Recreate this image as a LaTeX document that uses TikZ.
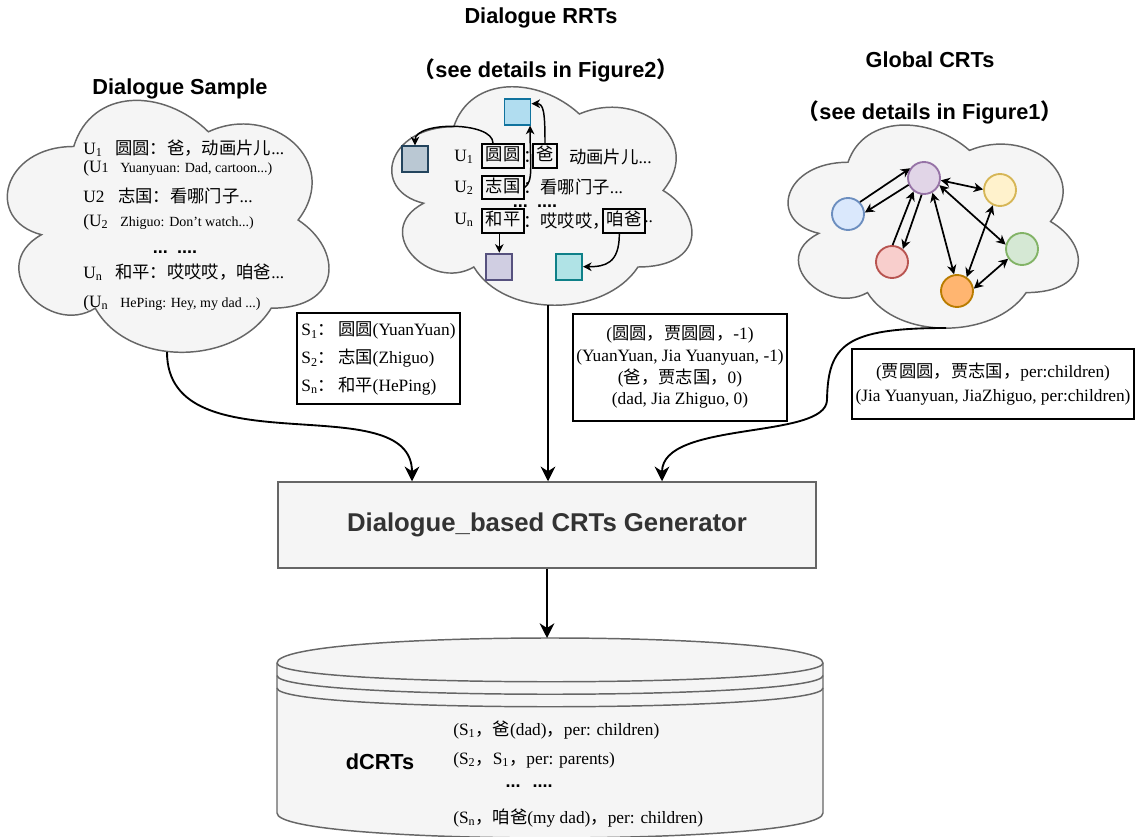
\documentclass[tikz,border=0pt]{standalone}
\usepackage{fontspec}
\setmainfont{Liberation Serif}
\setsansfont{Liberation Sans}
\newfontfamily\cjk{Noto Sans CJK SC}
\usetikzlibrary{arrows.meta,calc}
\definecolor{cloudfill}{HTML}{F5F5F5}
\definecolor{cloudline}{HTML}{666666}
\definecolor{gentext}{HTML}{333333}
\definecolor{bluef}{HTML}{DAE8FC}\definecolor{bluel}{HTML}{6C8EBF}
\definecolor{purf}{HTML}{E1D5E7}\definecolor{purl}{HTML}{9673A6}
\definecolor{yelf}{HTML}{FFF2CC}\definecolor{yell}{HTML}{D6B656}
\definecolor{redf}{HTML}{F8CECC}\definecolor{redl}{HTML}{B85450}
\definecolor{grnf}{HTML}{D5E8D4}\definecolor{grnl}{HTML}{82B366}
\definecolor{orf}{HTML}{FFB570}\definecolor{orl}{HTML}{B97C00}
\definecolor{sqTf}{HTML}{B1DDF0}\definecolor{sqTl}{HTML}{10739E}
\definecolor{sqLf}{HTML}{BAC8D3}\definecolor{sqLl}{HTML}{23445D}
\definecolor{sqPf}{HTML}{D0CEE2}\definecolor{sqPl}{HTML}{56517E}
\definecolor{sqCf}{HTML}{B0E3E6}\definecolor{sqCl}{HTML}{0E8088}
\newcommand\zh[1]{{\cjk #1}}
\newcommand\smallfs{\fontsize{10.5}{12.6}\selectfont}
\newcommand\drawcloud[4]{%
 \path[cloudst] ({#1+0.25*#3},{#2+0.25*#4}) .. controls ({#1+0.05*#3},{#2+0.25*#4}) and ({#1},{#2+0.5*#4}) .. ({#1+0.16*#3},{#2+0.55*#4})
 .. controls ({#1},{#2+0.66*#4}) and ({#1+0.18*#3},{#2+0.9*#4}) .. ({#1+0.31*#3},{#2+0.8*#4})
 .. controls ({#1+0.4*#3},{#2+#4}) and ({#1+0.7*#3},{#2+#4}) .. ({#1+0.8*#3},{#2+0.8*#4})
 .. controls ({#1+#3},{#2+0.8*#4}) and ({#1+#3},{#2+0.6*#4}) .. ({#1+0.875*#3},{#2+0.5*#4})
 .. controls ({#1+#3},{#2+0.3*#4}) and ({#1+0.8*#3},{#2+0.1*#4}) .. ({#1+0.625*#3},{#2+0.2*#4})
 .. controls ({#1+0.5*#3},{#2+0.05*#4}) and ({#1+0.3*#3},{#2+0.05*#4}) .. ({#1+0.25*#3},{#2+0.25*#4}) -- cycle;}
\begin{document}
\begin{tikzpicture}[x=0.75pt,y=-0.75pt,
  every node/.style={font=\fontsize{13}{15.6}\selectfont, inner sep=0pt},
  title/.style={font=\sffamily\bfseries\fontsize{16.3}{19}\selectfont},
  cloudst/.style={fill=cloudfill, draw=cloudline, line width=1.1pt},
  conn/.style={line width=1.4pt, -{Stealth[length=11pt,width=11pt,inset=3.5pt]}},
  sconn/.style={line width=1.1pt, -{Stealth[length=6.5pt,width=6.5pt,inset=2pt]}},
  carrow/.style={line width=1.3pt, -{Stealth[length=7pt,width=7pt,inset=2.2pt]}},
  cboth/.style={line width=1.3pt, {Stealth[length=7pt,width=7pt,inset=2.2pt]}-{Stealth[length=7pt,width=7pt,inset=2.2pt]}},
  tbox/.style={draw=black, fill=white, line width=1.4pt, inner sep=2pt},
  wbox/.style={draw=black, line width=1.5pt, inner xsep=2.4pt, inner ysep=2.6pt, text height=10pt, text depth=2.6pt},
  sq/.style={minimum size=19.5pt, line width=1.4pt},
  gnode/.style={circle, minimum size=24pt, line width=1.4pt},
  dots/.style={font=\sffamily\bfseries\fontsize{13.5}{15}\selectfont, text height=2.5pt, text depth=0pt}
]
\useasboundingbox (0,0) rectangle (1135,837);

% ---------- titles ----------
\node[title] (tDS) at (180,89) {Dialogue Sample};
\node[title] (tRR) at (541,18) {Dialogue RRTs};
\node[title] (tRR2) at (546,70) {\zh{（}see details in Figure2\zh{）}};
\node[title] (tGC) at (930,60) {Global CRTs};
\node[title] (tGC2) at (930,112) {\zh{（}see details in Figure1\zh{）}};

% ---------- clouds ----------
\drawcloud{-16}{73}{359}{294}
\drawcloud{370}{63}{335}{255}
\drawcloud{767}{103}{324}{237}
\coordinate (c1b) at (167,352);
\coordinate (c2b) at (548,305);
\coordinate (c3b) at (946,328);

% ---------- cloud 1 text ----------
\node[anchor=west] (s1) at (83,148) {\makebox[24pt][l]{U\textsubscript{1}}\zh{圆圆：爸，动画片儿}...};
\node[anchor=west] (s2) at (83,168) {\makebox[27.75pt][l]{(U{\smallfs 1}}{\smallfs Yuanyuan: Dad, cartoon...)}};
\node[anchor=west] (s3) at (83,196) {\makebox[26.25pt][l]{U2}\zh{志国：看哪门子}...};
\node[anchor=west] (s4) at (83,222) {\makebox[27.75pt][l]{(U\textsubscript{2}}{\smallfs Zhiguo: Don't watch...)}};
\node[dots] (s5) at (175,252) {...\hspace{7pt}....};
\node[anchor=west] (s6) at (83,272) {\makebox[24pt][l]{U\textsubscript{n}}\zh{和平：哎哎哎，咱爸}...};
\node[anchor=west] (s7) at (83,303) {\makebox[27.75pt][l]{(U\textsubscript{n}}{\smallfs HePing: Hey, my dad ...)}};

% ---------- cloud 2 content ----------
\node (u1) at (464,157) {U\textsubscript{1}};
\node[wbox] (b11) at (503,156) {\zh{圆圆}};
\node[anchor=west] (c11) at (523,157) {\zh{：}};
\node[wbox] (b12) at (545,156) {\zh{爸}};
\node[anchor=west] (t12) at (569,157) {\zh{动画片儿}...};
\node (u2) at (464,188) {U\textsubscript{2}};
\node[wbox] (b21) at (503,187.5) {\zh{志国}};
\node[anchor=west] (t21) at (523,187) {\zh{：看哪门子}...};
\node[dots] (d2) at (535,206) {...\hspace{7pt}....};
\node (un) at (464,220) {U\textsubscript{n}};
\node[wbox] (bn1) at (503,221) {\zh{和平}};
\node[anchor=west] (tn1) at (523,221) {\zh{：哎哎哎，}};
\node[wbox] (bn2) at (624,221) {\zh{咱爸}};
\node[anchor=west] (tn2) at (644,222) {..};

\node[sq, fill=sqTf, draw=sqTl] (sqT) at (517.5,111.7) {};
\node[sq, fill=sqLf, draw=sqLl] (sqL) at (415,159.3) {};
\node[sq, fill=sqPf, draw=sqPl] (sqP) at (499.3,266.7) {};
\node[sq, fill=sqCf, draw=sqCl] (sqC) at (569,266.7) {};

\draw[sconn] ([xshift=-7.5pt]b11.north) .. controls +(0,-22) and +(0,-24) .. (sqL.north);
\draw[sconn] (b21.east) .. controls +(9,-6) and +(0,40) .. ([xshift=-1pt]sqT.south east);
\draw[sconn] (b12.north) .. controls +(0,-32) and +(12,0) .. ([yshift=6pt]sqT.east);
\draw[sconn] (bn1.south -| sqP.north) -- (sqP.north);
\draw[sconn] ([xshift=-3.5pt]bn2.south) .. controls +(0,30) and +(22,0) .. (sqC.east);

% ---------- cloud 3 graph ----------
\node[gnode, fill=purf, draw=purl] (cP) at (924,178) {};
\node[gnode, fill=bluef, draw=bluel] (cB) at (848,214) {};
\node[gnode, fill=yelf, draw=yell] (cY) at (1000,190) {};
\node[gnode, fill=redf, draw=redl] (cR) at (892,262) {};
\node[gnode, fill=grnf, draw=grnl] (cG) at (1022,249) {};
\node[gnode, fill=orf, draw=orl] (cO) at (957,291) {};
\draw[carrow] (cB.45) -- (cP.145);
\draw[carrow] (cP.204) -- (cB.5);
\draw[carrow] (cR.88) -- (cP.232);
\draw[carrow] (cP.262) -- (cR.50);
\draw[cboth] (cP.300) -- (cO.100);
\draw[cboth] (cP.352) -- (cY.178);
\draw[cboth] (cP.335) -- (cG.165);
\draw[cboth] (cO.55) -- (cY.245);
\draw[cboth] (cO.8) -- (cG.215);

% ---------- text boxes ----------
\node[tbox, minimum width=122pt, minimum height=68pt, align=left, font=\fontsize{13}{21}\selectfont] (sbox) at (378.5,358.5)
 {S\textsubscript{1}\zh{：\,圆圆}(YuanYuan)\\S\textsubscript{2}\zh{：\,志国}(Zhiguo)\\S\textsubscript{n}\zh{：\,和平}(HePing)};
\node[tbox, minimum width=161pt, minimum height=80pt, align=center, font=\fontsize{13}{16.3}\selectfont] (mbox) at (680,367.3)
 {(\zh{圆圆，贾圆圆，}-1)\\(YuanYuan, Jia Yuanyuan, -1)\\(\zh{爸，贾志国，}0)\\(dad, Jia Zhiguo, 0)};
\node[tbox, minimum width=211pt, minimum height=52pt, align=center, font=\fontsize{13}{18.5}\selectfont] (rbox) at (993,384)
 {(\zh{贾圆圆，贾志国，}per:children)\\(Jia Yuanyuan, JiaZhiguo, per:children)};

% ---------- generator ----------
\node[draw=cloudline, fill=cloudfill, line width=1.1pt, minimum width=403.5pt, minimum height=64.5pt,
  font=\sffamily\bfseries\fontsize{19.3}{23}\selectfont, text=gentext] (gen) at (547,525) {Dialogue\_based CRTs Generator};

% ---------- datastore ----------
\path[fill=cloudfill, draw=cloudline, line width=1.1pt] (277,663) .. controls (277,629.67) and (823,629.67) .. (823,663)
  -- (823,813) .. controls (823,846.3) and (277,846.3) .. (277,813) -- cycle;
\draw[cloudline, line width=1.1pt] (277,663) .. controls (277,688) and (823,688) .. (823,663);
\draw[cloudline, line width=1.1pt] (277,675.5) .. controls (277,700.5) and (823,700.5) .. (823,675.5);
\draw[cloudline, line width=1.1pt] (277,688) .. controls (277,713) and (823,713) .. (823,688);
\coordinate (dbtop) at (547,638);
\node[title] (dc) at (380,762) {dCRTs};
\node[anchor=west] (r1) at (453,730) {(S\textsubscript{1}\zh{，爸}(dad)\zh{，}per: children)};
\node[anchor=west] (r2) at (453,760) {(S\textsubscript{2}\zh{，}S\textsubscript{1}\zh{，}per: parents)};
\node[dots] (r3) at (529,786) {...\hspace{9pt}....};
\node[anchor=west] (r4) at (453,818) {(S\textsubscript{n}\zh{，咱爸}(my dad)\zh{，}per: children)};

% ---------- connectors ----------
\draw[conn] (c1b) .. controls (167,470) and (412,385) .. ([xshift=-101.25pt]gen.north);
\draw[conn] (c2b) -- (c2b |- gen.north);
\draw[conn] (c3b) .. controls (845,328) and (828,345) .. (827,400) .. controls (826,440) and (662,420) .. ([xshift=86.25pt]gen.north);
\draw[conn] (gen.south) -- (dbtop);
\end{tikzpicture}
\end{document}
